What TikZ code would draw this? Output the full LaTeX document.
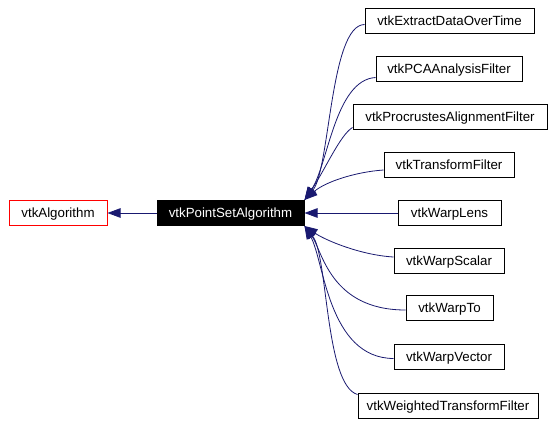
\documentclass[tikz,border=0pt]{standalone}
\usepackage{fontspec}
\setmainfont{Liberation Sans}
\usetikzlibrary{arrows.meta}
\definecolor{edgeblue}{RGB}{25,25,112}
\begin{document}
\begin{tikzpicture}[x=1pt,y=-1pt,>={Triangle[length=13pt,width=9.5pt]},
	cls/.style={draw=black,line width=1pt,inner sep=0pt,minimum height=25pt,
		font=\fontsize{13.3}{16}\selectfont,text height=10.5pt,text depth=1.5pt},
	edge/.style={->,draw=edgeblue,line width=0.8pt}]
		\useasboundingbox (0,0) rectangle (554,423);
		\node[cls,draw=red,minimum width=98pt] (alg) at (58,213) {vtkAlgorithm};
		\node[cls,fill=black,text=white,minimum width=147pt] (psa) at (230.5,213) {vtkPointSetAlgorithm};
		\node[cls,minimum width=169pt] (ext) at (449.5,20.5) {vtkExtractDataOverTime};
		\node[cls,minimum width=146pt] (pca) at (449,68.5) {vtkPCAAnalysisFilter};
		\node[cls,minimum width=194pt] (pro) at (450,116.5) {vtkProcrustesAlignmentFilter};
		\node[cls,minimum width=130pt] (tra) at (449,165) {vtkTransformFilter};
		\node[cls,minimum width=103pt] (wle) at (449.5,213) {vtkWarpLens};
		\node[cls,minimum width=110pt] (wsc) at (449,261) {vtkWarpScalar};
		\node[cls,minimum width=87pt] (wto) at (449.5,308) {vtkWarpTo};
		\node[cls,minimum width=110pt] (wve) at (449,356.5) {vtkWarpVector};
		\node[cls,minimum width=180pt] (wtf) at (448,405.5) {vtkWeightedTransformFilter};
		\draw[edge] (psa.west) -- (alg.east);
		\draw[edge] ([yshift=-4pt]ext.west) .. controls (330,25) and (330,170) .. (psa.north east);
		\draw[edge] ([yshift=-9pt]pca.west) .. controls (335,80) and (328,165) .. (psa.north east);
		\draw[edge] ([yshift=2pt]pro.south west) .. controls (340,135) and (325,170) .. (psa.north east);
		\draw[edge] ([yshift=-5pt]tra.west) .. controls (355,172) and (325,182) .. (psa.north east);
		\draw[edge] (wle.west) -- (psa.east);
		\draw[edge] ([yshift=4pt]wsc.west) .. controls (360,255) and (325,240) .. (psa.south east);
		\draw[edge] ([yshift=-2pt]wto.west) .. controls (330,310) and (322,250) .. (psa.south east);
		\draw[edge] ([yshift=-2pt]wve.west) .. controls (328,358) and (324,260) .. (psa.south east);
		\draw[edge] ([yshift=-2pt]wtf.north west) .. controls (325,385) and (328,255) .. (psa.south east);
		%\draw[edge] (wtf.west) -- (psa.south east);
\end{tikzpicture}
\end{document}
